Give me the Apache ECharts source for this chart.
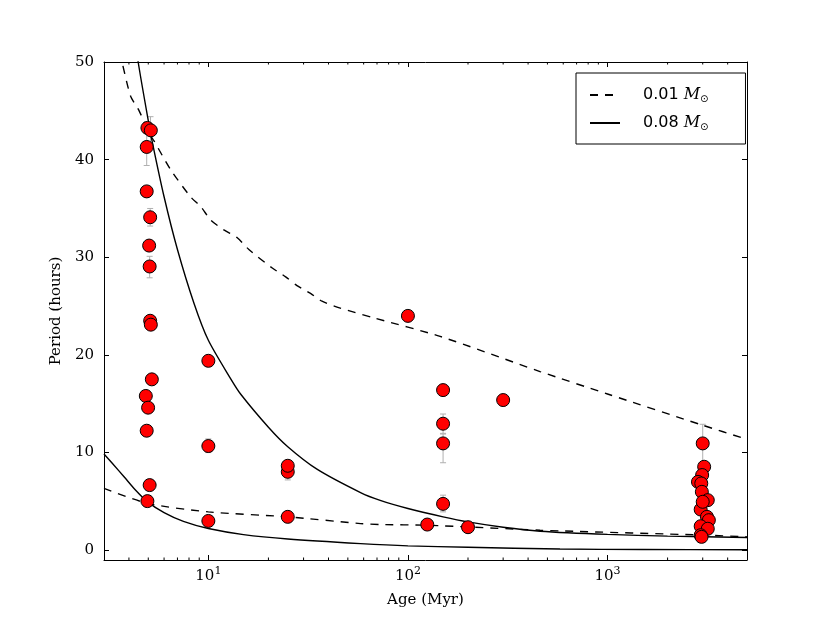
<!DOCTYPE html>
<html>
<head>
<meta charset="utf-8">
<script src="https://cdn.jsdelivr.net/npm/echarts@6/dist/echarts.min.js"></script>
<style>
  html, body { margin: 0; padding: 0; background: #fff; }
  #chart { width: 830px; height: 623px; }
</style>
</head>
<body>
<div id="chart"></div>
<script>
    // observed objects
    var pointAge = [4.95, 5.15, 4.91, 4.91, 5.11, 5.05, 5.08, 5.11, 5.15, 5.21, 4.86, 4.99, 4.91, 5.08, 4.95,
        10, 10, 10, 25, 25, 25, 100, 150, 300, 150, 150, 150, 125, 200,
        3000, 3050, 2980, 2840, 2950, 2970, 3180, 2930, 3150, 3220, 2930, 3180, 2930, 2960, 3000];
    var pointPeriod = [43.25, 43.0, 41.3, 36.75, 34.1, 31.2, 29.06, 23.5, 23.1, 17.5, 15.8, 14.6, 12.24, 6.67, 5.03,
        19.4, 10.67, 3.0, 8.03, 8.65, 3.42, 24.0, 16.4, 15.38, 12.96, 10.94, 4.75, 2.63, 2.36,
        10.94, 8.55, 7.7, 7.0, 6.84, 5.98, 5.13, 4.17, 3.42, 3.08, 2.46, 2.2, 1.54, 1.37, 4.96];

    // error bars
    var errAge = [4.91, 5.13, 5.11, 5.08, 10, 25, 150, 150, 150, 3000];
    var errLow = [39.4, 41.6, 33.2, 27.9, 10.0, 7.2, 11.97, 8.96, 3.93, 8.6];
    var errHigh = [43.2, 44.4, 35.0, 30.1, 11.4, 9.0, 13.95, 11.9, 5.64, 12.9];

    // model curves, 0.01 Msun
    var lowUpperAge = [3, 3.69, 4.08, 4.5, 5.05, 5.35, 6.46, 8.14, 9.15, 10.3, 11.97, 13.96, 15.96, 20.9, 24.4,
        27.8, 32.5, 37.1, 45.8, 67.3, 145, 459, 1000, 3000, 5000];
    var lowUpperP = [57, 50, 46.5, 45, 42.7, 41.9, 39.0, 36.2, 35.2, 33.8, 32.8, 32.0, 30.8, 28.9, 28.0,
        27.1, 26.3, 25.5, 24.8, 23.8, 21.9, 18.3, 16.0, 12.8, 11.35];
    var lowLowerAge = [3, 4.96, 10, 25, 57.9, 72.6, 125, 459, 578, 3000, 5000];
    var lowLowerP = [6.33, 4.8, 3.93, 3.42, 2.73, 2.63, 2.56, 2.05, 1.98, 1.55, 1.37];

    // model curves, 0.08 Msun
    var highUpperAge = [4.2, 4.45, 5.0, 5.25, 6, 7, 8.47, 10, 12.9, 14.5, 20, 25, 35, 57.9, 72.6, 100, 150, 200,
        300, 459, 1000, 2000, 5000];
    var highUpperP = [54, 50, 44, 41.7, 36.2, 30.8, 25.3, 21.5, 17.6, 16.0, 12.6, 10.6, 8.3, 5.9, 5.1, 4.27, 3.42, 2.9,
        2.35, 1.95, 1.62, 1.45, 1.3];
    var highLowerAge = [3, 3.3, 3.79, 4.3, 4.96, 6, 7.5, 10, 15, 25, 57.9, 100, 200, 578, 1500, 5000];
    var highLowerP = [9.85, 8.9, 7.5, 6.2, 4.95, 3.85, 2.95, 2.22, 1.6, 1.15, 0.68, 0.45, 0.3, 0.12, 0.08, 0.05];

    var minorTickAge = [4, 5, 6, 7, 8, 9, 20, 30, 40, 50, 60, 70, 80, 90,
        200, 300, 400, 500, 600, 700, 800, 900, 2000, 3000, 4000];

    var xMin = 3, xMax = 5000, yMin = -1, yMax = 50;

    function pairs(xs, ys) {
        return xs.map(function (x, i) { return [x, ys[i]]; });
    }

    var serif = 'DejaVu Serif';
    var chart = echarts.init(document.getElementById('chart'));

    function logLabel(value) {
        var lg = Math.log10(value);
        var e = Math.round(lg);
        if (Math.abs(lg - e) > 1e-6) return '';
        return '{b|10}{s|' + e + '}';
    }

    function curve(name, xs, ys, dashed) {
        return {
            name: name, type: 'line', data: pairs(xs, ys),
            symbol: 'none', z: 3, clip: true,
            smooth: 0.25,
            itemStyle: { color: '#000' },
            lineStyle: { color: '#000', width: 1.4, type: dashed ? [8, 7] : 'solid' }
        };
    }

    var option = {
        animation: false,
        grid: { left: 104, right: 83, top: 62, bottom: 63 },
        legend: {
            data: ['0.01', '0.08'],
            orient: 'vertical',
            left: 576,
            top: 73,
            itemWidth: 30,
            itemHeight: 14,
            itemGap: 11,
            padding: [14, 37, 12, 13],
            borderColor: '#000',
            borderWidth: 1,
            borderRadius: 0,
            backgroundColor: '#fff',
            selectedMode: false,
            itemStyle: { opacity: 0, borderWidth: 0 },
            formatter: function (name) {
                return '{sp| }{n|' + name + ' }{m|M}{o|⊙}';
            },
            textStyle: {
                rich: {
                    sp: { width: 18 },
                    n: { fontFamily: 'DejaVu Sans', fontSize: 16, color: '#000' },
                    m: { fontFamily: serif, fontStyle: 'italic', fontSize: 16, color: '#000' },
                    o: { fontFamily: 'DejaVu Sans', fontSize: 10, color: '#000', padding: [8, 0, 0, 0] }
                }
            }
        },
        xAxis: [{
            type: 'log',
            logBase: 10,
            min: xMin,
            max: xMax,
            name: 'Age (Myr)',
            nameLocation: 'middle',
            nameGap: 33,
            nameTextStyle: { fontFamily: serif, fontSize: 15, color: '#000' },
            axisLine: { onZero: false, lineStyle: { color: '#000', width: 1 } },
            axisTick: { inside: true, length: 5, lineStyle: { color: '#000' } },
            axisLabel: {
                margin: 6,
                formatter: logLabel,
                rich: {
                    b: { fontFamily: serif, fontSize: 15, color: '#000' },
                    s: { fontFamily: serif, fontSize: 11, color: '#000', padding: [0, 0, 10, 0] }
                }
            },
            splitLine: { show: false }
        }, {
            type: 'log',
            logBase: 10,
            min: xMin,
            max: xMax,
            position: 'top',
            axisLine: { onZero: false, lineStyle: { color: '#000', width: 1 } },
            axisTick: { inside: true, length: 5, lineStyle: { color: '#000' } },
            axisLabel: { show: false },
            splitLine: { show: false }
        }],
        yAxis: [{
            type: 'value',
            min: yMin,
            max: yMax,
            name: 'Period (hours)',
            nameLocation: 'middle',
            nameGap: 36,
            nameTextStyle: { fontFamily: serif, fontSize: 15, color: '#000' },
            axisLine: { show: true, onZero: false, lineStyle: { color: '#000', width: 1 } },
            axisTick: { show: true, inside: true, length: 5, lineStyle: { color: '#000' } },
            axisLabel: { margin: 10, showMinLabel: false, fontFamily: serif, fontSize: 15, color: '#000' },
            splitLine: { show: false }
        }, {
            type: 'value',
            min: yMin,
            max: yMax,
            position: 'right',
            axisLine: { show: true, onZero: false, lineStyle: { color: '#000', width: 1 } },
            axisTick: { show: true, inside: true, length: 5, lineStyle: { color: '#000' } },
            axisLabel: { show: false },
            splitLine: { show: false }
        }],
        series: [
            curve('0.01', lowUpperAge, lowUpperP, true),
            curve('0.01', lowLowerAge, lowLowerP, true),
            curve('0.08', highUpperAge, highUpperP, false),
            curve('0.08', highLowerAge, highLowerP, false),
            {
                type: 'custom', silent: true, z: 2,
                data: errAge.map(function (a, i) { return [a, errLow[i], errHigh[i]]; }),
                encode: { x: 0, y: [1, 2] },
                renderItem: function (params, api) {
                    var lo = api.coord([api.value(0), api.value(1)]);
                    var hi = api.coord([api.value(0), api.value(2)]);
                    var c = 3, st = { stroke: '#b0b0b0', lineWidth: 1 };
                    return {
                        type: 'group', children: [
                            { type: 'line', shape: { x1: lo[0], y1: lo[1], x2: hi[0], y2: hi[1] }, style: st },
                            { type: 'line', shape: { x1: lo[0] - c, y1: lo[1], x2: lo[0] + c, y2: lo[1] }, style: st },
                            { type: 'line', shape: { x1: hi[0] - c, y1: hi[1], x2: hi[0] + c, y2: hi[1] }, style: st }
                        ]
                    };
                }
            },
            {
                type: 'scatter', z: 5,
                data: pairs(pointAge, pointPeriod),
                symbolSize: 13,
                itemStyle: { color: '#ff0000', borderColor: '#000', borderWidth: 1, opacity: 1 }
            },
            {
                // minor log ticks, bottom and top
                type: 'custom', silent: true, z: 6,
                data: minorTickAge.map(function (a) { return [a, yMin]; }),
                encode: { x: 0, y: 1 },
                renderItem: function (params, api) {
                    var b = api.coord([api.value(0), yMin]);
                    var t = api.coord([api.value(0), yMax]);
                    var st = { stroke: '#000', lineWidth: 1 };
                    return {
                        type: 'group', children: [
                            { type: 'line', shape: { x1: b[0], y1: b[1], x2: b[0], y2: b[1] - 2.5 }, style: st },
                            { type: 'line', shape: { x1: t[0], y1: t[1], x2: t[0], y2: t[1] + 2.5 }, style: st }
                        ]
                    };
                }
            }
        ]
    };

    chart.setOption(option);
</script>
</body>
</html>
